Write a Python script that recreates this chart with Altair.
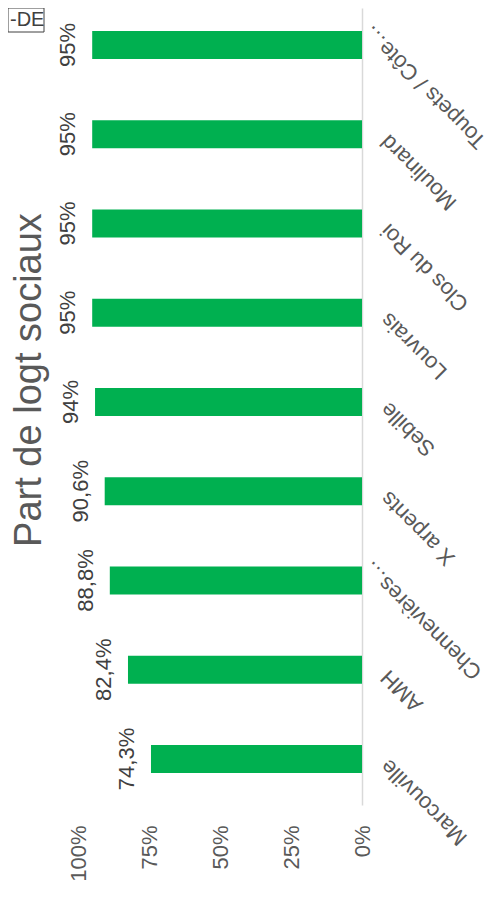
import altair as alt
import pandas as pd

categories = ["Toupets / Côte…", "Moulinard", "Clos du Roi", "Louvrais", "Sebille",
              "X arpents", "Chennevières…", "AMH", "Marcouville"]
values = [0.95, 0.95, 0.95, 0.95, 0.94, 0.906, 0.888, 0.824, 0.743]
value_labels = ["95%", "95%", "95%", "95%", "94%", "90,6%", "88,8%", "82,4%", "74,3%"]
tick_values = [0, 0.25, 0.5, 0.75, 1.0]
title_text = "Part de logt sociaux"
legend_text = "-DE"

FONT = "Liberation Sans"
GREY = "#595959"

df = pd.DataFrame({"cat": categories, "val": values, "lab": value_labels})

trunc = "indexof(datum.label, '…') >= 0"

x_enc = alt.X("val:Q",
              scale=alt.Scale(domain=[0, 1], reverse=True, nice=False),
              axis=alt.Axis(values=tick_values, format=".0%", domain=False, ticks=False,
                            grid=False, labelAngle=270, labelAlign="right",
                            labelBaseline="middle", labelPadding=20, labelFontSize=22,
                            labelColor=GREY, labelFont=FONT, title=None))
y_enc = alt.Y("cat:N", sort=None,
              scale=alt.Scale(paddingInner=0.686, paddingOuter=0.308, align=0.418),
              axis=alt.Axis(orient="right", domainColor="#d9d9d9", domainWidth=1.5,
                            ticks=False, grid=False, labelAngle=225, labelAlign="right",
                            labelBaseline="middle",
                            labelPadding=alt.condition(trunc, alt.value(4), alt.value(22)),
                            labelOffset=alt.condition(trunc, alt.value(-16), alt.value(4)),
                            labelFontSize=22, labelColor=GREY, labelFont=FONT,
                            labelLimit=400, title=None))

base = alt.Chart(df)
bars = base.mark_bar(color="#00B050").encode(x=x_enc, y=y_enc)
labels = base.mark_text(angle=270, align="center", baseline="alphabetic", dy=-17,
                        fontSize=22, font=FONT, color="#404040").encode(
    x=alt.X("val:Q"), y=alt.Y("cat:N", sort=None), text="lab:N")

tdf = pd.DataFrame({"t": [title_text]})
title = alt.Chart(tdf).mark_text(angle=270, align="center", baseline="alphabetic",
                                 fontSize=38, font=FONT, color=GREY).encode(
    x=alt.value(-37), y=alt.value(372), text="t:N")

ldf = pd.DataFrame({"t": [legend_text]})
box = alt.Chart(ldf).mark_rect(fill="white", stroke="#404040", strokeWidth=1).encode(
    x=alt.value(-70), x2=alt.value(-34), y=alt.value(0), y2=alt.value(24))
boxtext = alt.Chart(ldf).mark_text(align="left", baseline="middle", fontSize=20,
                                   font=FONT, color="#404040").encode(
    x=alt.value(-68), y=alt.value(12), text="t:N")

chart = alt.layer(bars, labels, title, box, boxtext).properties(
    width=284, height=797,
    autosize=alt.AutoSizeParams(type="none"),
    padding={"left": 70, "top": 0, "right": 127, "bottom": 80},
).configure(font=FONT).configure_view(stroke=None)

chart.save("out.html", embed_options={"renderer": "svg", "actions": False})
